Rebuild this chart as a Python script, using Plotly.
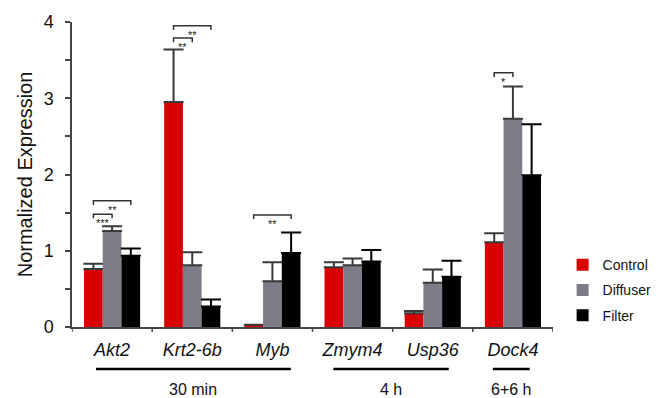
import plotly.graph_objects as go

# Gene targets, grouped by exposure time
genes = ["Akt2", "Krt2-6b", "Myb", "Zmym4", "Usp36", "Dock4"]

# Mean normalized expression per condition
control = [0.76, 2.95, 0.03, 0.785, 0.18, 1.11]
diffuser = [1.26, 0.81, 0.60, 0.81, 0.58, 2.73]
filter_ = [0.935, 0.27, 0.97, 0.86, 0.66, 1.99]

# Upper error (SEM) per condition
control_err = [0.07, 0.69, 0.0, 0.065, 0.03, 0.12]
diffuser_err = [0.06, 0.17, 0.25, 0.09, 0.175, 0.425]
filter_err = [0.095, 0.09, 0.27, 0.15, 0.21, 0.67]

# Significance brackets: (gene index, series a, series b, height, label)
sig_brackets = [
    (0, 0, 1, 1.48, "***"),
    (0, 0, 2, 1.655, "**"),
    (1, 0, 1, 3.79, "**"),
    (1, 0, 2, 3.95, "**"),
    (2, 0, 2, 1.47, "**"),
    (5, 0, 1, 3.335, "*"),
]

# Time-point groups: (label, first x, last x)
time_groups = [
    ("30 min", -0.2, 2.23),
    ("4 h", 2.76, 4.20),
    ("6+6 h", 4.75, 5.21),
]

series = [
    ("Control", control, control_err, "#d80000", "#3a3a3a"),
    ("Diffuser", diffuser, diffuser_err, "#7e7a87", "#3a3a3a"),
    ("Filter", filter_, filter_err, "#000000", "#000000"),
]

FONT = "Arial, Liberation Sans, Helvetica, sans-serif"
BARGAP = 0.3
bar_w = (1 - BARGAP) / len(series)

fig = go.Figure()
for i, (name, vals, errs, color, ecolor) in enumerate(series):
    fig.add_trace(go.Bar(
        name=name,
        x=list(range(len(genes))),
        y=vals,
        marker=dict(color=color, line=dict(width=0)),
        error_y=dict(type="data", symmetric=False, array=errs,
                     arrayminus=[0] * len(errs), color=ecolor,
                     thickness=2, width=10),
        legendgroup=name,
    ))

shapes = []
annotations = []


def bar_center(g, s):
    return g + (s - (len(series) - 1) / 2) * bar_w


tick_drop = 0.055
for g, a, b, h, label in sig_brackets:
    xa, xb = bar_center(g, a), bar_center(g, b)
    shapes.append(dict(
        type="path", xref="x", yref="y",
        path=f"M {xa},{h - tick_drop} L {xa},{h} L {xb},{h} L {xb},{h - tick_drop}",
        line=dict(color="#333333", width=1.5),
    ))
    annotations.append(dict(
        x=(xa + xb) / 2, y=h, xref="x", yref="y", text=label,
        showarrow=False, yanchor="top", yshift=-1,
        font=dict(family=FONT, size=11, color="#222222"),
    ))

for label, x0, x1 in time_groups:
    shapes.append(dict(
        type="line", xref="x", yref="paper", x0=x0, x1=x1,
        y0=-0.138, y1=-0.138, line=dict(color="#000000", width=2.5),
    ))
    annotations.append(dict(
        x=(x0 + x1) / 2, y=-0.205, xref="x", yref="paper", text=label,
        showarrow=False, yanchor="middle",
        font=dict(family=FONT, size=16, color="#111111"),
    ))

fig.update_layout(
    width=669, height=398,
    margin=dict(l=72, r=94, t=16, b=71),
    paper_bgcolor="white", plot_bgcolor="white",
    barmode="group", bargap=BARGAP, bargroupgap=0,
    font=dict(family=FONT, color="#111111"),
    shapes=shapes, annotations=annotations,
    legend=dict(
        x=1.02, y=0.255, xanchor="left", yanchor="top",
        font=dict(family=FONT, size=14, color="#111111"),
        tracegroupgap=4, itemwidth=30,
    ),
    xaxis=dict(
        range=[-0.5, len(genes) - 0.5],
        tickmode="array", tickvals=list(range(len(genes))), ticktext=genes,
        tickfont=dict(family=FONT, size=18, style="italic", color="#111111"),
        ticklabelstandoff=6,
        showline=True, linecolor="#444444", linewidth=1.5,
        ticks="", showgrid=False, zeroline=False,
    ),
    yaxis=dict(
        range=[0, 4], tickvals=[0, 1, 2, 3, 4],
        tickfont=dict(family=FONT, size=18, color="#111111"),
        ticklabelstandoff=8,
        showline=True, linecolor="#444444", linewidth=1.5,
        ticks="outside", ticklen=5, tickwidth=1.5, tickcolor="#444444",
        minor=dict(dtick=0.5, ticks="outside", ticklen=5, tickwidth=1.5,
                   tickcolor="#444444", showgrid=False),
        showgrid=False, zeroline=False,
        title=dict(text="Normalized Expression", standoff=6,
                   font=dict(family=FONT, size=20, color="#111111")),
    ),
)

# Category boundary ticks on the x axis
for k in range(len(genes) + 1):
    fig.add_shape(type="line", xref="x", yref="paper",
                  x0=k - 0.5, x1=k - 0.5, y0=0, y1=-0.016,
                  line=dict(color="#444444", width=1.5))

fig.write_html("out.html")
